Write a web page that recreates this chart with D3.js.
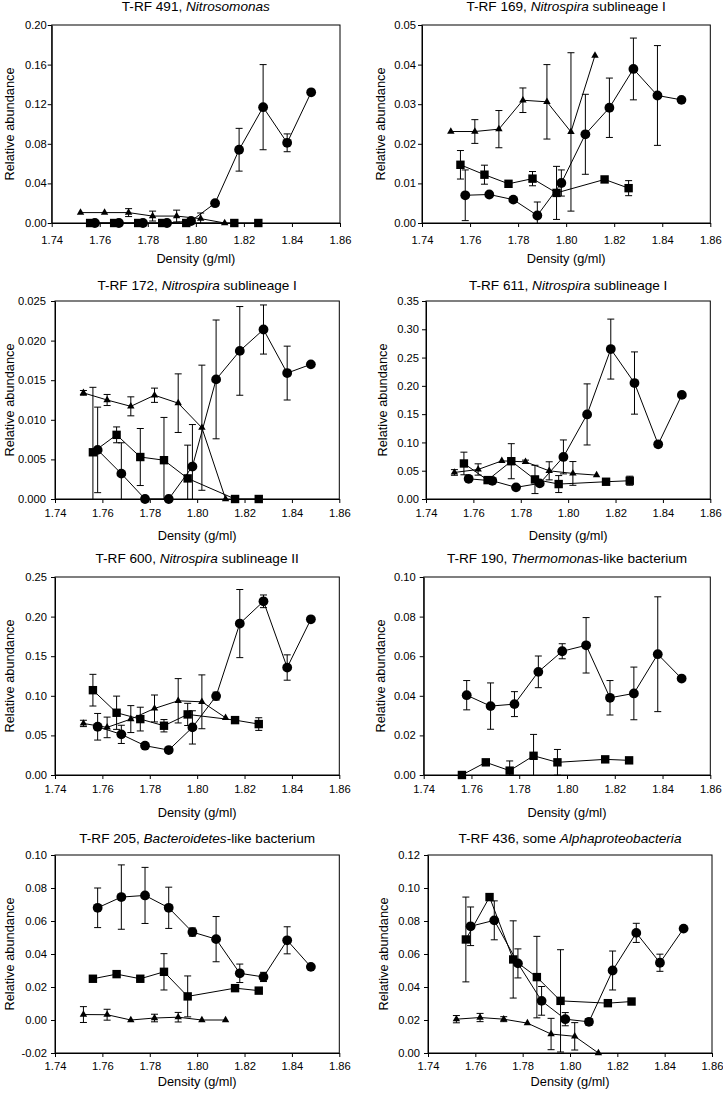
<!DOCTYPE html>
<html>
<head>
<meta charset="utf-8">
<script src="https://cdn.jsdelivr.net/npm/d3@7"></script>
<style>
body { margin: 0; background: #fff; }
svg { display: block; font-family: Arial, "Liberation Sans", sans-serif; }
.axis path, .axis line { stroke: #000; stroke-width: 1; }
.axis text { font-size: 11.2px; fill: #000; }
</style>
</head>
<body>
<svg width="723" height="1096"></svg>
<script>
// Density of each fraction, one list per marker type
const circleX = [1.758, 1.768, 1.778, 1.788, 1.798, 1.808, 1.818, 1.828, 1.838, 1.848];
const squareX = [1.756, 1.766, 1.776, 1.786, 1.796, 1.816, 1.826];
const triangleX = [1.752, 1.762, 1.772, 1.782, 1.792, 1.802, 1.812];

const xTicks = [1.74, 1.76, 1.78, 1.80, 1.82, 1.84, 1.86];

// Panel titles
const titlePre = ["T-RF 491, ", "T-RF 169, ", "T-RF 172, ", "T-RF 611, ", "T-RF 600, ", "T-RF 190, ", "T-RF 205, ", "T-RF 436, some "];
const titleItalic = ["Nitrosomonas", "Nitrospira", "Nitrospira", "Nitrospira", "Nitrospira", "Thermomonas", "Bacteroidetes", "Alphaproteobacteria"];
const titlePost = ["", " sublineage I", " sublineage I", " sublineage I", " sublineage II", "-like bacterium", "-like bacterium", ""];

// y axis ranges
const yMin = [0, 0, 0, 0, 0, 0, -0.02, 0];
const yMax = [0.20, 0.05, 0.025, 0.35, 0.25, 0.10, 0.10, 0.12];
const yStep = [0.04, 0.01, 0.005, 0.05, 0.05, 0.02, 0.02, 0.02];
const yDigits = [2, 2, 3, 2, 2, 2, 2, 2];

// T-RF 491
const rf491Circle = [0, 0, 0, 0, 0.002, 0.020, 0.074, 0.117, 0.081, 0.132];
const rf491CircleErr = [0, 0, 0, 0, 0, 0, 0.0216, 0.043, 0.009, 0];
const rf491Square = [0, 0, 0, 0, 0, 0, 0];
const rf491SquareErr = [0, 0, 0, 0, 0, 0, 0];
const rf491Triangle = [0.0105, 0.0105, 0.0105, 0.007, 0.007, 0.0044, 0];
const rf491TriangleErr = [0, 0, 0.004, 0.005, 0.006, 0.0057, 0];

// T-RF 169
const rf169Circle = [0.007, 0.0072, 0.0059, 0.0019, 0.0101, 0.0224, 0.0291, 0.0389, 0.0322, 0.0311];
const rf169CircleErr = [0.0064, 0, 0, 0.0034, 0.0033, 0.0101, 0.0075, 0.0078, 0.0126, 0];
const rf169Square = [0.0147, 0.0122, 0.0099, 0.0112, 0.0076, 0.011, 0.0088];
const rf169SquareErr = [0.0036, 0.0024, 0.0005, 0.0018, 0.0067, 0.0003, 0.0019];
const rf169Triangle = [0.0231, 0.0231, 0.0237, 0.031, 0.0306, 0.023, 0.0423];
const rf169TriangleErr = [0, 0.003, 0.0047, 0.0031, 0.0094, 0.02, 0];

// T-RF 172
const rf172Circle = [0.0062, 0.0032, 0, 0, 0.0041, 0.0151, 0.0187, 0.0214, 0.0159, 0.017];
const rf172CircleErr = [0.0054, 0.0039, 0, 0, 0.0053, 0.0075, 0.0056, 0.0031, 0.0034, 0];
const rf172Square = [0.0059, 0.0081, 0.0053, 0.0049, 0.0026, 0, 0];
const rf172SquareErr = [0.0082, 0.001, 0.0036, 0.0054, 0.0042, 0, 0];
const rf172Triangle = [0.0134, 0.0125, 0.0117, 0.0131, 0.0121, 0.009, 0];
const rf172TriangleErr = [0.0003, 0.0007, 0.0012, 0.0009, 0.0037, 0.0079, 0];

// T-RF 611
const rf611Circle = [0.0357, 0.0322, 0.0206, 0.0276, 0.0744, 0.1495, 0.265, 0.205, 0.0967, 0.184];
const rf611CircleErr = [0, 0, 0, 0, 0.03, 0.054, 0.053, 0.055, 0.005, 0];
const rf611Square = [0.0628, 0.0334, 0.0668, 0.0346, 0.0264, 0.0305, 0.0323];
const rf611SquareErr = [0.02, 0.003, 0.031, 0.025, 0.015, 0.003, 0.008];
const rf611Triangle = [0.0469, 0.0522, 0.0674, 0.0657, 0.0498, 0.0452, 0.0422];
const rf611TriangleErr = [0.005, 0.01, 0, 0.003, 0.016, 0.021, 0];

// T-RF 600
const rf600Circle = [0.0609, 0.0513, 0.037, 0.0315, 0.0601, 0.0996, 0.1912, 0.2193, 0.1357, 0.1966];
const rf600CircleErr = [0.0168, 0.0115, 0, 0, 0.021, 0.005, 0.043, 0.008, 0.016, 0];
const rf600Square = [0.1071, 0.0786, 0.0706, 0.0622, 0.0765, 0.0693, 0.0643];
const rf600SquareErr = [0.02, 0.021, 0.015, 0.0078, 0.014, 0, 0.008];
const rf600Triangle = [0.0651, 0.0601, 0.0706, 0.084, 0.0937, 0.0924, 0.0723];
const rf600TriangleErr = [0.004, 0.013, 0.017, 0.017, 0.028, 0.034, 0];

// T-RF 190 (no triangle series)
const rf190Circle = [0.0403, 0.0348, 0.0358, 0.0521, 0.0625, 0.0655, 0.039, 0.0412, 0.061, 0.0487];
const rf190CircleErr = [0.0074, 0.0117, 0.0063, 0.008, 0.0038, 0.014, 0.0087, 0.0133, 0.029, 0];
const rf190Square = [0, 0.0064, 0.0022, 0.0097, 0.0064, 0.0079, 0.0074];
const rf190SquareErr = [0, 0, 0.0049, 0.0108, 0.0065, 0, 0];
const rf190Triangle = [];
const rf190TriangleErr = [];

// T-RF 205
const rf205Circle = [0.068, 0.0745, 0.0755, 0.068, 0.0533, 0.049, 0.0283, 0.0261, 0.0483, 0.0322];
const rf205CircleErr = [0.012, 0.0195, 0.017, 0.0125, 0.0025, 0.0137, 0.0056, 0.0028, 0.0082, 0];
const rf205Square = [0.025, 0.0278, 0.025, 0.0292, 0.0143, 0.0193, 0.0178];
const rf205SquareErr = [0, 0, 0.001, 0.011, 0.0124, 0, 0];
const rf205Triangle = [0.0033, 0.0032, 0, 0.0012, 0.0017, 0, 0];
const rf205TriangleErr = [0.0048, 0.0033, 0, 0.0023, 0.0029, 0, 0];

// T-RF 436
const rf436Circle = [0.0768, 0.0804, 0.0543, 0.0316, 0.0205, 0.0189, 0.05, 0.0728, 0.0547, 0.0754];
const rf436CircleErr = [0.0117, 0.0118, 0.0088, 0.0087, 0.004, 0.002, 0.0118, 0.0058, 0.0052, 0];
const rf436Square = [0.0688, 0.0945, 0.0567, 0.046, 0.0316, 0.0302, 0.0312];
const rf436SquareErr = [0.0257, 0, 0.0234, 0.0247, 0.031, 0, 0];
const rf436Triangle = [0.0205, 0.0215, 0.0205, 0.0181, 0.0115, 0.0101, 0];
const rf436TriangleErr = [0.0022, 0.0025, 0.0015, 0, 0.0095, 0.0083, 0];

const circleSets = [rf491Circle, rf169Circle, rf172Circle, rf611Circle, rf600Circle, rf190Circle, rf205Circle, rf436Circle];
const circleErrs = [rf491CircleErr, rf169CircleErr, rf172CircleErr, rf611CircleErr, rf600CircleErr, rf190CircleErr, rf205CircleErr, rf436CircleErr];
const squareSets = [rf491Square, rf169Square, rf172Square, rf611Square, rf600Square, rf190Square, rf205Square, rf436Square];
const squareErrs = [rf491SquareErr, rf169SquareErr, rf172SquareErr, rf611SquareErr, rf600SquareErr, rf190SquareErr, rf205SquareErr, rf436SquareErr];
const triangleSets = [rf491Triangle, rf169Triangle, rf172Triangle, rf611Triangle, rf600Triangle, rf190Triangle, rf205Triangle, rf436Triangle];
const triangleErrs = [rf491TriangleErr, rf169TriangleErr, rf172TriangleErr, rf611TriangleErr, rf600TriangleErr, rf190TriangleErr, rf205TriangleErr, rf436TriangleErr];

// Layout
let svg = d3.select("svg");
let plotHeight = 198;
let rowTop = [25, 301, 577, 855];
let panelLeft = [51.7, 422, 55, 426, 55, 423.7, 55, 428];
let panelRight = [340, 710.3, 339.3, 710.3, 339.3, 710.3, 339.3, 712];
let yPad = [1, 2, 5, 3, 4, 4, 4, 4];
let yTitleX = [13.8, 384.8, 13.8, 386.5, 13.8, 384.5, 13.8, 388];
let xPad = [9, 6.5, 6.5, 5];
let xTitleDy = [40, 40.5, 41.5, 32.5];
let titleDy = [-13.6, -11.3, -14, -12];
let tickLen = 4;
let capHalf = 3.5;

let fmtX = d3.format(".2f");

for (let p = 0; p < 8; ++p) {

    let row = Math.floor(p / 2);
    let left = panelLeft[p];
    let right = panelRight[p];
    let top = rowTop[row];
    let bottom = top + plotHeight;

    let x = d3.scaleLinear().domain([1.74, 1.86]).range([left, right]);
    let y = d3.scaleLinear().domain([yMin[p], yMax[p]]).range([bottom, top]);

    let nTicks = Math.round((yMax[p] - yMin[p]) / yStep[p]);
    let yTicks = d3.range(nTicks + 1).map(function(i) { return +(yMin[p] + i * yStep[p]).toFixed(4); });
    let fmtY = d3.format("." + yDigits[p] + "f");

    let g = svg.append("g");

    // Clip for error bars
    let clipId = "clip" + p;
    svg.append("clipPath").attr("id", clipId)
        .append("rect")
        .attr("x", left).attr("y", top)
        .attr("width", right - left).attr("height", plotHeight);

    // Axes
    g.append("g")
        .attr("class", "axis")
        .attr("transform", "translate(0," + bottom + ")")
        .call(d3.axisBottom(x).tickValues(xTicks).tickFormat(fmtX)
            .tickSize(tickLen).tickSizeOuter(0).tickPadding(xPad[row]));

    g.append("g")
        .attr("class", "axis")
        .attr("transform", "translate(" + left + ",0)")
        .call(d3.axisLeft(y).tickValues(yTicks)
            .tickFormat(function(d) { return fmtY(d).replace("\u2212", "-"); })
            .tickSize(tickLen).tickSizeOuter(0).tickPadding(yPad[p]));

    // Frame
    g.append("rect")
        .attr("x", left).attr("y", top)
        .attr("width", right - left).attr("height", plotHeight)
        .attr("fill", "none").attr("stroke", "#000").attr("stroke-width", 1);

    // Titles
    let title = g.append("text")
        .attr("x", (left + right) / 2)
        .attr("y", top + titleDy[row])
        .attr("text-anchor", "middle")
        .attr("font-size", 13.6);
    title.append("tspan").text(titlePre[p]);
    title.append("tspan").attr("font-style", "italic").text(titleItalic[p]);
    title.append("tspan").text(titlePost[p]);

    g.append("text")
        .attr("x", (left + right) / 2)
        .attr("y", bottom + xTitleDy[row])
        .attr("text-anchor", "middle")
        .attr("font-size", 12.8)
        .text("Density (g/ml)");

    g.append("text")
        .attr("transform", "translate(" + yTitleX[p] + "," + (top + plotHeight / 2) + ") rotate(-90)")
        .attr("text-anchor", "middle")
        .attr("font-size", 12.8)
        .text("Relative abundance");

    // Series
    let series = [
        { xs: circleX, ys: circleSets[p], es: circleErrs[p], shape: "circle" },
        { xs: squareX, ys: squareSets[p], es: squareErrs[p], shape: "square" },
        { xs: triangleX, ys: triangleSets[p], es: triangleErrs[p], shape: "triangle" }
    ];

    series.forEach(function(s) {
        let pts = s.ys.map(function(v, i) { return { x: s.xs[i], y: v, e: s.es[i] }; });
        if (pts.length === 0) return;

        let sg = g.append("g");

        // Error bars
        let eb = sg.append("g").attr("clip-path", "url(#" + clipId + ")")
            .selectAll("g.err")
            .data(pts.filter(function(d) { return d.e > 0; }))
            .enter().append("g").attr("class", "err");
        eb.append("line")
            .attr("x1", function(d) { return x(d.x); })
            .attr("x2", function(d) { return x(d.x); })
            .attr("y1", function(d) { return y(d.y - d.e); })
            .attr("y2", function(d) { return y(d.y + d.e); })
            .attr("stroke", "#000");
        eb.append("line")
            .attr("x1", function(d) { return x(d.x) - capHalf; })
            .attr("x2", function(d) { return x(d.x) + capHalf; })
            .attr("y1", function(d) { return y(d.y + d.e); })
            .attr("y2", function(d) { return y(d.y + d.e); })
            .attr("stroke", "#000");
        eb.append("line")
            .attr("x1", function(d) { return x(d.x) - capHalf; })
            .attr("x2", function(d) { return x(d.x) + capHalf; })
            .attr("y1", function(d) { return y(d.y - d.e); })
            .attr("y2", function(d) { return y(d.y - d.e); })
            .attr("stroke", "#000");

        // Line
        sg.append("path")
            .datum(pts)
            .attr("d", d3.line().x(function(d) { return x(d.x); }).y(function(d) { return y(d.y); }))
            .attr("fill", "none")
            .attr("stroke", "#000")
            .attr("stroke-width", 1);

        // Markers
        if (s.shape === "circle") {
            sg.selectAll("circle").data(pts).enter().append("circle")
                .attr("cx", function(d) { return x(d.x); })
                .attr("cy", function(d) { return y(d.y); })
                .attr("r", 4.9);
        } else if (s.shape === "square") {
            sg.selectAll("rect").data(pts).enter().append("rect")
                .attr("x", function(d) { return x(d.x) - 4.2; })
                .attr("y", function(d) { return y(d.y) - 4.2; })
                .attr("width", 8.4).attr("height", 8.4);
        } else {
            let tri = d3.symbol().type(d3.symbolTriangle).size(24);
            sg.selectAll("path.tri").data(pts).enter().append("path")
                .attr("class", "tri")
                .attr("transform", function(d) { return "translate(" + x(d.x) + "," + y(d.y) + ")"; })
                .attr("d", tri);
        }
    });
}
</script>
</body>
</html>
